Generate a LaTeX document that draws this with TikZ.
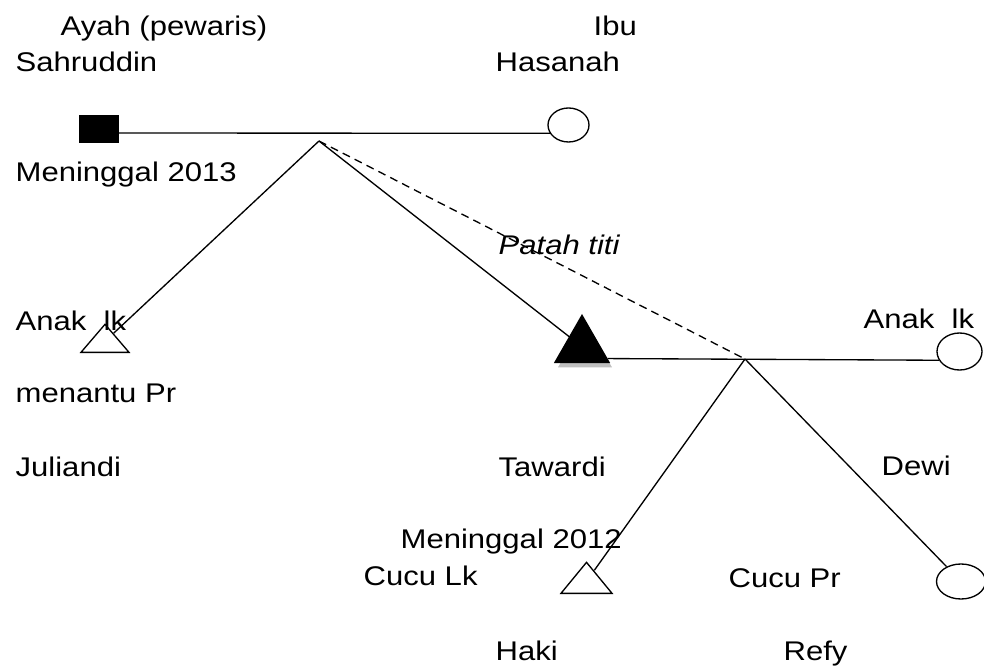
\documentclass[tikz,border=0pt]{standalone}
\usepackage{fontspec}
\setmainfont{Liberation Sans}[FakeStretch=1.15]
\usetikzlibrary{shapes.geometric,shadows,calc}

\begin{document}
\begin{tikzpicture}[x=0.75pt,y=-0.75pt, font=\fontsize{20.25}{24}\selectfont, line width=1pt,
  lbl/.style={anchor=base west, inner sep=0pt},
  lk/.style={isosceles triangle, isosceles triangle stretches, shape border rotate=90,
    draw, inner sep=0pt, anchor=lower side},
  pr/.style={ellipse, draw, inner sep=0pt}]
\useasboundingbox (0,0) rectangle (984,666);
% generasi pertama
\node[draw, fill=black, inner sep=0pt, minimum width=28.5pt, minimum height=19.5pt] (ayah) at (99,129) {};
\node[pr, minimum width=30.75pt, minimum height=25.5pt] (ibu) at (568.5,125) {};
\coordinate (m1) at (319,133);
\coordinate (j1) at (319,141);
\draw (ayah.east |- m1) -- (ibu.204);
\node[lbl] (tAyah) at (60,36) {Ayah (pewaris)};
\node[lbl] (tSahruddin) at (15,72) {Sahruddin};
\node[lbl] (tIbu) at (593,36) {Ibu};
\node[lbl] (tHasanah) at (495,72) {Hasanah};
\node[lbl] (tMati1) at (15,182) {Meninggal 2013};
% anak
\node[lk, minimum width=36pt, minimum height=21pt] (anak1) at (105,353) {};
\node[lk, fill=black, minimum width=40.5pt, minimum height=35.25pt,
  general shadow={fill=black!25, shadow xshift=2.25pt, shadow yshift=-3.75pt}] (anak2) at (582,363) {};
\node[pr, minimum width=33.75pt, minimum height=27.75pt] (menantu) at (959.5,351.5) {};
\draw (j1) -- (anak1);
\draw (j1) -- (anak2);
\coordinate (j2) at (745,359);
\draw[dash pattern=on 6pt off 4pt] (j1) -- (j2);
\draw ($(anak2.right corner)!0.09!(anak2.apex)$) -- (menantu.203);
\node[lbl] (tPatah) at (498,255) {\itshape Patah titi};
\node[lbl] (tAnak1) at (15,330) {Anak~~lk};
\node[lbl] (tAnak2) at (863,328) {Anak~~lk};
\node[lbl] (tMenantu) at (15,402) {menantu Pr};
\node[lbl] (tJuliandi) at (15,476) {Juliandi};
\node[lbl] (tTawardi) at (498,476) {Tawardi};
\node[lbl] (tDewi) at (881,475) {Dewi};
% cucu
\node[lk, minimum width=38.25pt, minimum height=23.25pt] (cucu1) at (586.5,594) {};
\node[pr, minimum width=36.75pt, minimum height=26.25pt] (cucu2) at (961,581.5) {};
\draw (j2) -- (cucu1);
\draw (j2) -- (cucu2);
\node[lbl] (tMati2) at (400,548) {Meninggal 2012};
\node[lbl] (tCucu1) at (363,585) {Cucu Lk};
\node[lbl] (tCucu2) at (728,587) {Cucu Pr};
\node[lbl] (tHaki) at (495,660) {Haki};
\node[lbl] (tRefy) at (783,660) {Refy};
\end{tikzpicture}
\end{document}
